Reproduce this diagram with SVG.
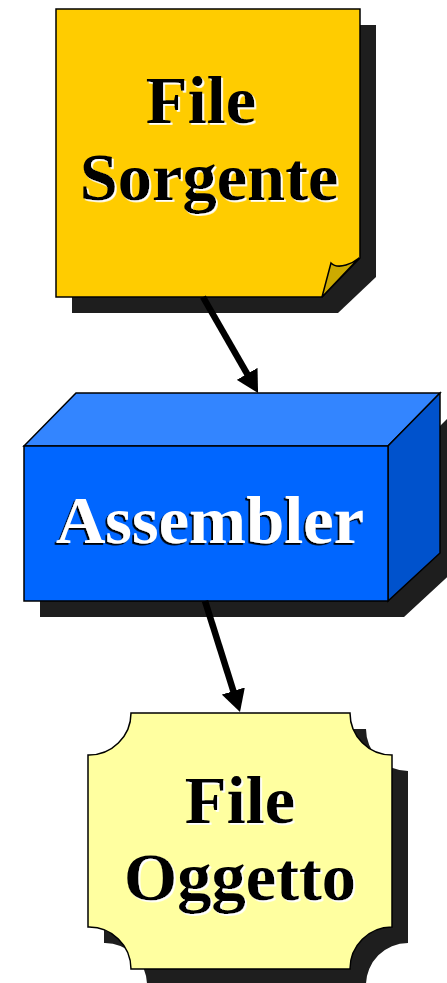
<svg xmlns="http://www.w3.org/2000/svg" width="447" height="983" viewBox="0 0 447 983">
<style>
.shadow{fill:#1e1e1e;stroke:none}
.outline{stroke:#000;stroke-width:1.5;stroke-linejoin:miter}
.lbl{font-family:"Liberation Serif","Times New Roman",serif;font-weight:bold;font-size:68.5px;text-anchor:middle}
.dark{fill:#000;filter:url(#ws)}
.light{fill:#fff;filter:url(#bs)}
.conn{stroke:#000;stroke-width:6.5;fill:none}
</style>
<defs>
<marker id="ah" markerUnits="userSpaceOnUse" viewBox="0 0 22 24" refX="7" refY="12" markerWidth="22" markerHeight="24" orient="auto">
<path d="M0,0 L22,12 L0,24 Z" fill="#000"/>
</marker>
<filter id="ws" x="-5%" y="-5%" width="110%" height="115%">
<feDropShadow dx="1.8" dy="1.8" stdDeviation="0" flood-color="#fff" flood-opacity="1"/>
</filter>
<filter id="bs" x="-5%" y="-5%" width="110%" height="115%">
<feDropShadow dx="-1.8" dy="1.8" stdDeviation="0" flood-color="#000" flood-opacity="1"/>
</filter>
</defs>
<g id="node-file-sorgente">
<path class="shadow" d="M72,25 H376 V277 L338,313 H72 Z"/>
<path class="outline" fill="#ffcc00" d="M56,9 H360 V258 L322,297 H56 Z"/>
<path class="outline" fill="#ccaa00" d="M322,297 L331,263 Q336,268 346,265 Q353,263 359,258 Z"/>
<text class="lbl dark" x="201" y="123">File</text>
<text class="lbl dark" x="209" y="200">Sorgente</text>
</g>
<g id="node-assembler">
<path class="shadow" d="M40,462 H404 L456,410 V569 L404,617 H40 Z"/>
<path class="outline" fill="#3385ff" d="M24,446 L76,393 H440 L388,446 Z"/>
<path class="outline" fill="#0052cc" d="M388,446 L440,393 V553 L388,601 Z"/>
<rect class="outline" fill="#0066ff" x="24" y="446" width="364" height="155"/>
<text class="lbl light" x="210" y="543">Assembler</text>
</g>
<g id="node-file-oggetto">
<path class="shadow" d="M147,729 H366 A42,42 0 0 0 408,771 V943 A42,42 0 0 0 366,985 H147 A42,42 0 0 0 104,943 V771 A42,42 0 0 0 147,729 Z"/>
<path class="outline" fill="#ffffa0" d="M131,713 H350 A42,42 0 0 0 392,755 V927 A42,42 0 0 0 350,969 H131 A42,42 0 0 0 88,927 V755 A42,42 0 0 0 131,713 Z"/>
<text class="lbl dark" x="240" y="823">File</text>
<text class="lbl dark" x="240" y="900">Oggetto</text>
</g>
<g id="connectors">
<line class="conn" x1="203" y1="297" x2="250.6" y2="379.9" marker-end="url(#ah)"/>
<line class="conn" x1="205" y1="601" x2="235.5" y2="697.7" marker-end="url(#ah)"/>
</g>
</svg>
